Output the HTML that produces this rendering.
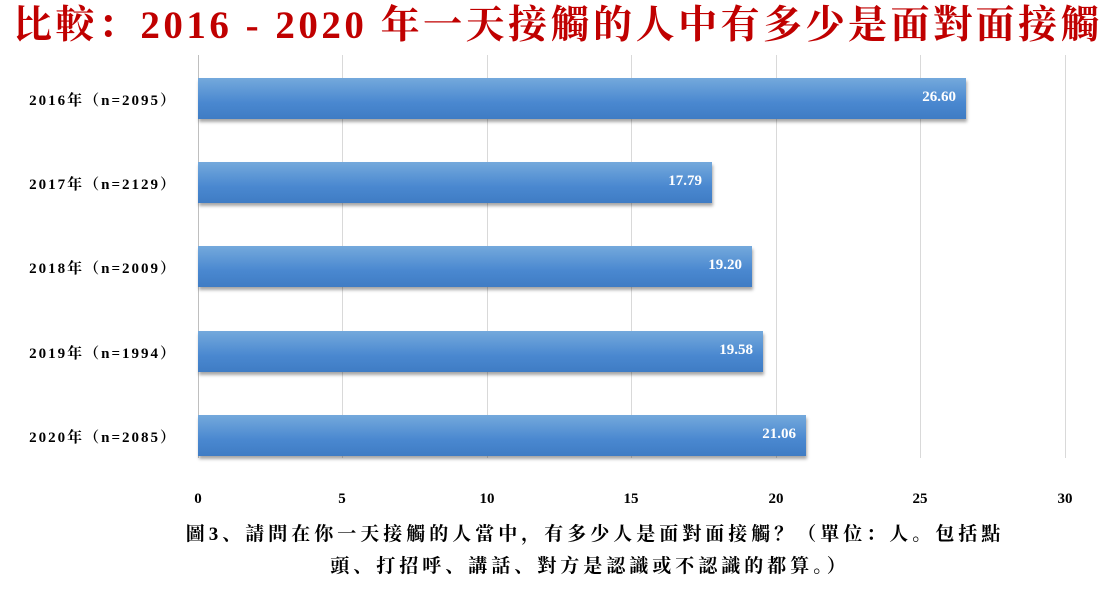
<!DOCTYPE html>
<html><head><meta charset="utf-8"><style>
body{margin:0;width:1116px;height:593px;background:#fff;position:relative;overflow:hidden;font-family:"Liberation Serif","Noto Serif CJK SC",serif;}
.t{position:absolute;left:0;top:-6px;width:1116px;text-align:center;color:#c00000;font-weight:bold;font-size:39px;white-space:nowrap;letter-spacing:3.5px}
.g{position:absolute;top:55px;height:403px;width:1px;background:#d9d9d9}
.bar{position:absolute;left:198px;height:41px;background:linear-gradient(#74a9dc,#4a88d0 60%,#3f7cc4);box-shadow:1px 3px 3px rgba(0,0,0,.35)}
.bar span{position:absolute;right:10px;top:11px;color:#fff;font-weight:bold;font-size:15px}
.yl{position:absolute;left:0;width:177px;text-align:right;font-weight:bold;font-size:15px;letter-spacing:2px}
.xl{position:absolute;top:491px;width:40px;margin-left:-20px;text-align:center;font-weight:bold;font-size:15px}
.cap{position:absolute;left:0;width:1116px;text-align:center;font-weight:bold;font-size:19px;white-space:nowrap;letter-spacing:4px}
</style></head><body>
<div class="t">比較：2016 - 2020 年一天接觸的人中有多少是面對面接觸</div>
<div class="g" style="left:198px;background:#bfbfbf"></div>
<div class="g" style="left:342px"></div>
<div class="g" style="left:487px"></div>
<div class="g" style="left:631px"></div>
<div class="g" style="left:776px"></div>
<div class="g" style="left:920px"></div>
<div class="g" style="left:1065px"></div>
<div class="bar" style="top:78px;width:768px"><span>26.60</span></div>
<div class="bar" style="top:162px;width:514px"><span>17.79</span></div>
<div class="bar" style="top:246px;width:554px"><span>19.20</span></div>
<div class="bar" style="top:331px;width:565px"><span>19.58</span></div>
<div class="bar" style="top:415px;width:608px"><span>21.06</span></div>
<div class="yl" style="top:89px">2016年（n=2095）</div>
<div class="yl" style="top:173px">2017年（n=2129）</div>
<div class="yl" style="top:257px">2018年（n=2009）</div>
<div class="yl" style="top:342px">2019年（n=1994）</div>
<div class="yl" style="top:426px">2020年（n=2085）</div>
<div class="xl" style="left:198px">0</div>
<div class="xl" style="left:342px">5</div>
<div class="xl" style="left:487px">10</div>
<div class="xl" style="left:631px">15</div>
<div class="xl" style="left:776px">20</div>
<div class="xl" style="left:920px">25</div>
<div class="xl" style="left:1065px">30</div>
<div class="cap" style="top:519px;left:37px">圖3、請問在你一天接觸的人當中，有多少人是面對面接觸？（單位：人。包括點</div>
<div class="cap" style="top:551px;left:32px">頭、打招呼、講話、對方是認識或不認識的都算。）</div>
</body></html>
